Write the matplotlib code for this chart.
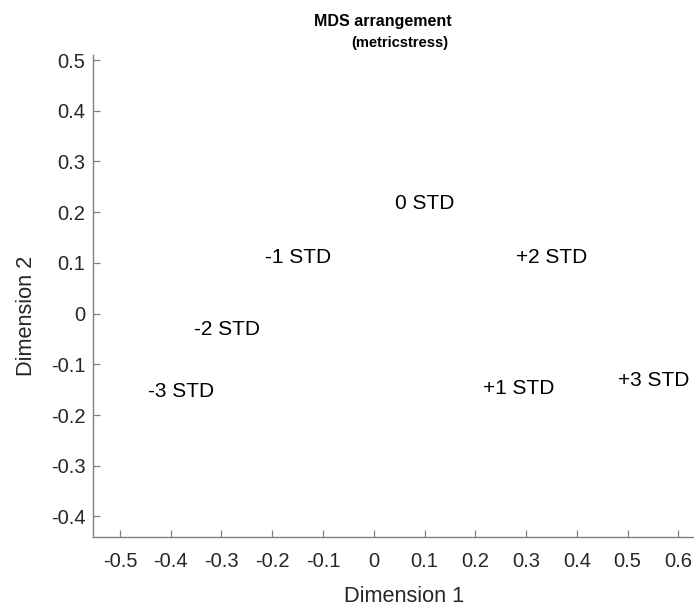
import matplotlib
matplotlib.use("Agg")
import matplotlib.pyplot as plt

plt.rcParams['font.family'] = ['Liberation Sans', 'DejaVu Sans']
plt.rcParams['axes.unicode_minus'] = False

# MDS coordinates of each condition label
labels = ['-3 STD', '-2 STD', '-1 STD', '0 STD', '+1 STD', '+2 STD', '+3 STD']
dim1 = [-0.444, -0.354, -0.214, 0.041, 0.216, 0.281, 0.480]
dim2 = [-0.153, -0.031, 0.111, 0.218, -0.147, 0.111, -0.131]

xticks = [-0.5, -0.4, -0.3, -0.2, -0.1, 0, 0.1, 0.2, 0.3, 0.4, 0.5, 0.6]
yticks = [-0.4, -0.3, -0.2, -0.1, 0, 0.1, 0.2, 0.3, 0.4, 0.5]

fig = plt.figure(figsize=(6.94, 6.08), dpi=100)
ax = fig.add_axes([93 / 694, 1 - 536.7 / 608, 1 - 93 / 694, (536.7 - 55) / 608])

for lab, x, y in zip(labels, dim1, dim2):
    ax.text(x, y, lab, ha='left', va='center', fontsize=15, color='black')

ax.set_xlim(-0.553, 0.6306)
ax.set_ylim(-0.44, 0.51)
ax.set_xticks(xticks)
ax.set_yticks(yticks)
ax.set_xticklabels(['0' if t == 0 else f'{t:g}' for t in xticks])
ax.set_yticklabels(['0' if t == 0 else f'{t:g}' for t in yticks])

for side in ['top', 'right']:
    ax.spines[side].set_visible(False)
for side in ['left', 'bottom']:
    ax.spines[side].set_color('#808080')
    ax.spines[side].set_linewidth(1.0)

ax.tick_params(axis='both', direction='in', length=5, width=0.9,
               color='#808080', labelcolor='#262626', labelsize=14.5)
ax.tick_params(axis='x', pad=11)
ax.tick_params(axis='y', pad=5.5)

ax.set_xlabel('Dimension 1', fontsize=15.7, color='#262626')
ax.xaxis.set_label_coords((404.5 - 93) / 601, -(601.5 - 536.7) / 481.7)
ax.xaxis.label.set_verticalalignment('baseline')
ax.set_ylabel('Dimension 2', fontsize=15.7, color='#262626')
ax.yaxis.set_label_coords((37.5 - 93) / 601, (536.7 - 316) / 481.7)

fig.text(382.5 / 694, 1 - 25.7 / 608, 'MDS arrangement', ha='center',
         va='baseline', fontsize=11.5, fontweight='bold')
fig.text(400 / 694, 1 - 46.5 / 608, '(metricstress)', ha='center',
         va='baseline', fontsize=10.5, fontweight='bold')

fig.savefig('out.png', dpi=100)
